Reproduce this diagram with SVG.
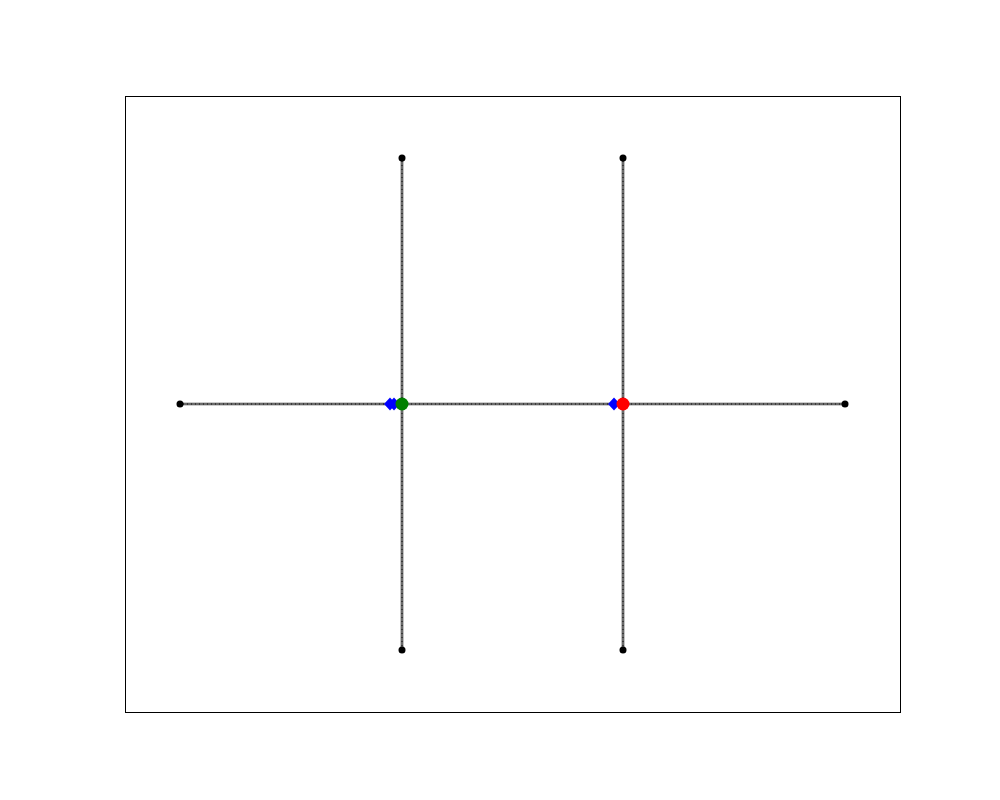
<svg xmlns="http://www.w3.org/2000/svg" width="1000" height="800" viewBox="0 0 1000 800">
<style>
.edge{stroke:#3a3a3a;stroke-width:2.6;fill:none}
.edgehl{stroke:#9a9a9a;stroke-width:1;stroke-dasharray:3 1;fill:none}
.end{fill:#000}
.dia{fill:#0000ff}
</style>
<rect x="0" y="0" width="1000" height="800" fill="#fff"/>
<rect x="125.5" y="96.5" width="775" height="616" fill="none" stroke="#000" stroke-width="1"/>
<g id="connectors">
<line class="edge" x1="180" y1="404" x2="845" y2="404"/>
<line class="edge" x1="402" y1="158" x2="402" y2="650"/>
<line class="edge" x1="623" y1="158" x2="623" y2="650"/>
<line class="edgehl" x1="180" y1="404" x2="845" y2="404"/>
<line class="edgehl" x1="402" y1="158" x2="402" y2="650"/>
<line class="edgehl" x1="623" y1="158" x2="623" y2="650"/>
</g>
<g id="n-left"><circle class="end" cx="180" cy="404" r="3.5"/></g>
<g id="n-right"><circle class="end" cx="845" cy="404" r="3.5"/></g>
<g id="n-top1"><circle class="end" cx="402" cy="158" r="3.5"/></g>
<g id="n-top2"><circle class="end" cx="623" cy="158" r="3.5"/></g>
<g id="n-bot1"><circle class="end" cx="402" cy="650" r="3.5"/></g>
<g id="n-bot2"><circle class="end" cx="623" cy="650" r="3.5"/></g>
<g id="n-blue1">
<polygon class="dia" points="384,404 390,397.5 396,404 390,410.5"/>
<polygon class="dia" points="388,404 394,397.5 400,404 394,410.5"/>
</g>
<g id="n-green"><circle cx="402" cy="404" r="6.5" fill="#008000"/></g>
<g id="n-blue2"><polygon class="dia" points="608,404 614,397.5 620,404 614,410.5"/></g>
<g id="n-red"><circle cx="623" cy="404" r="6.5" fill="#ff0000"/></g>
</svg>
